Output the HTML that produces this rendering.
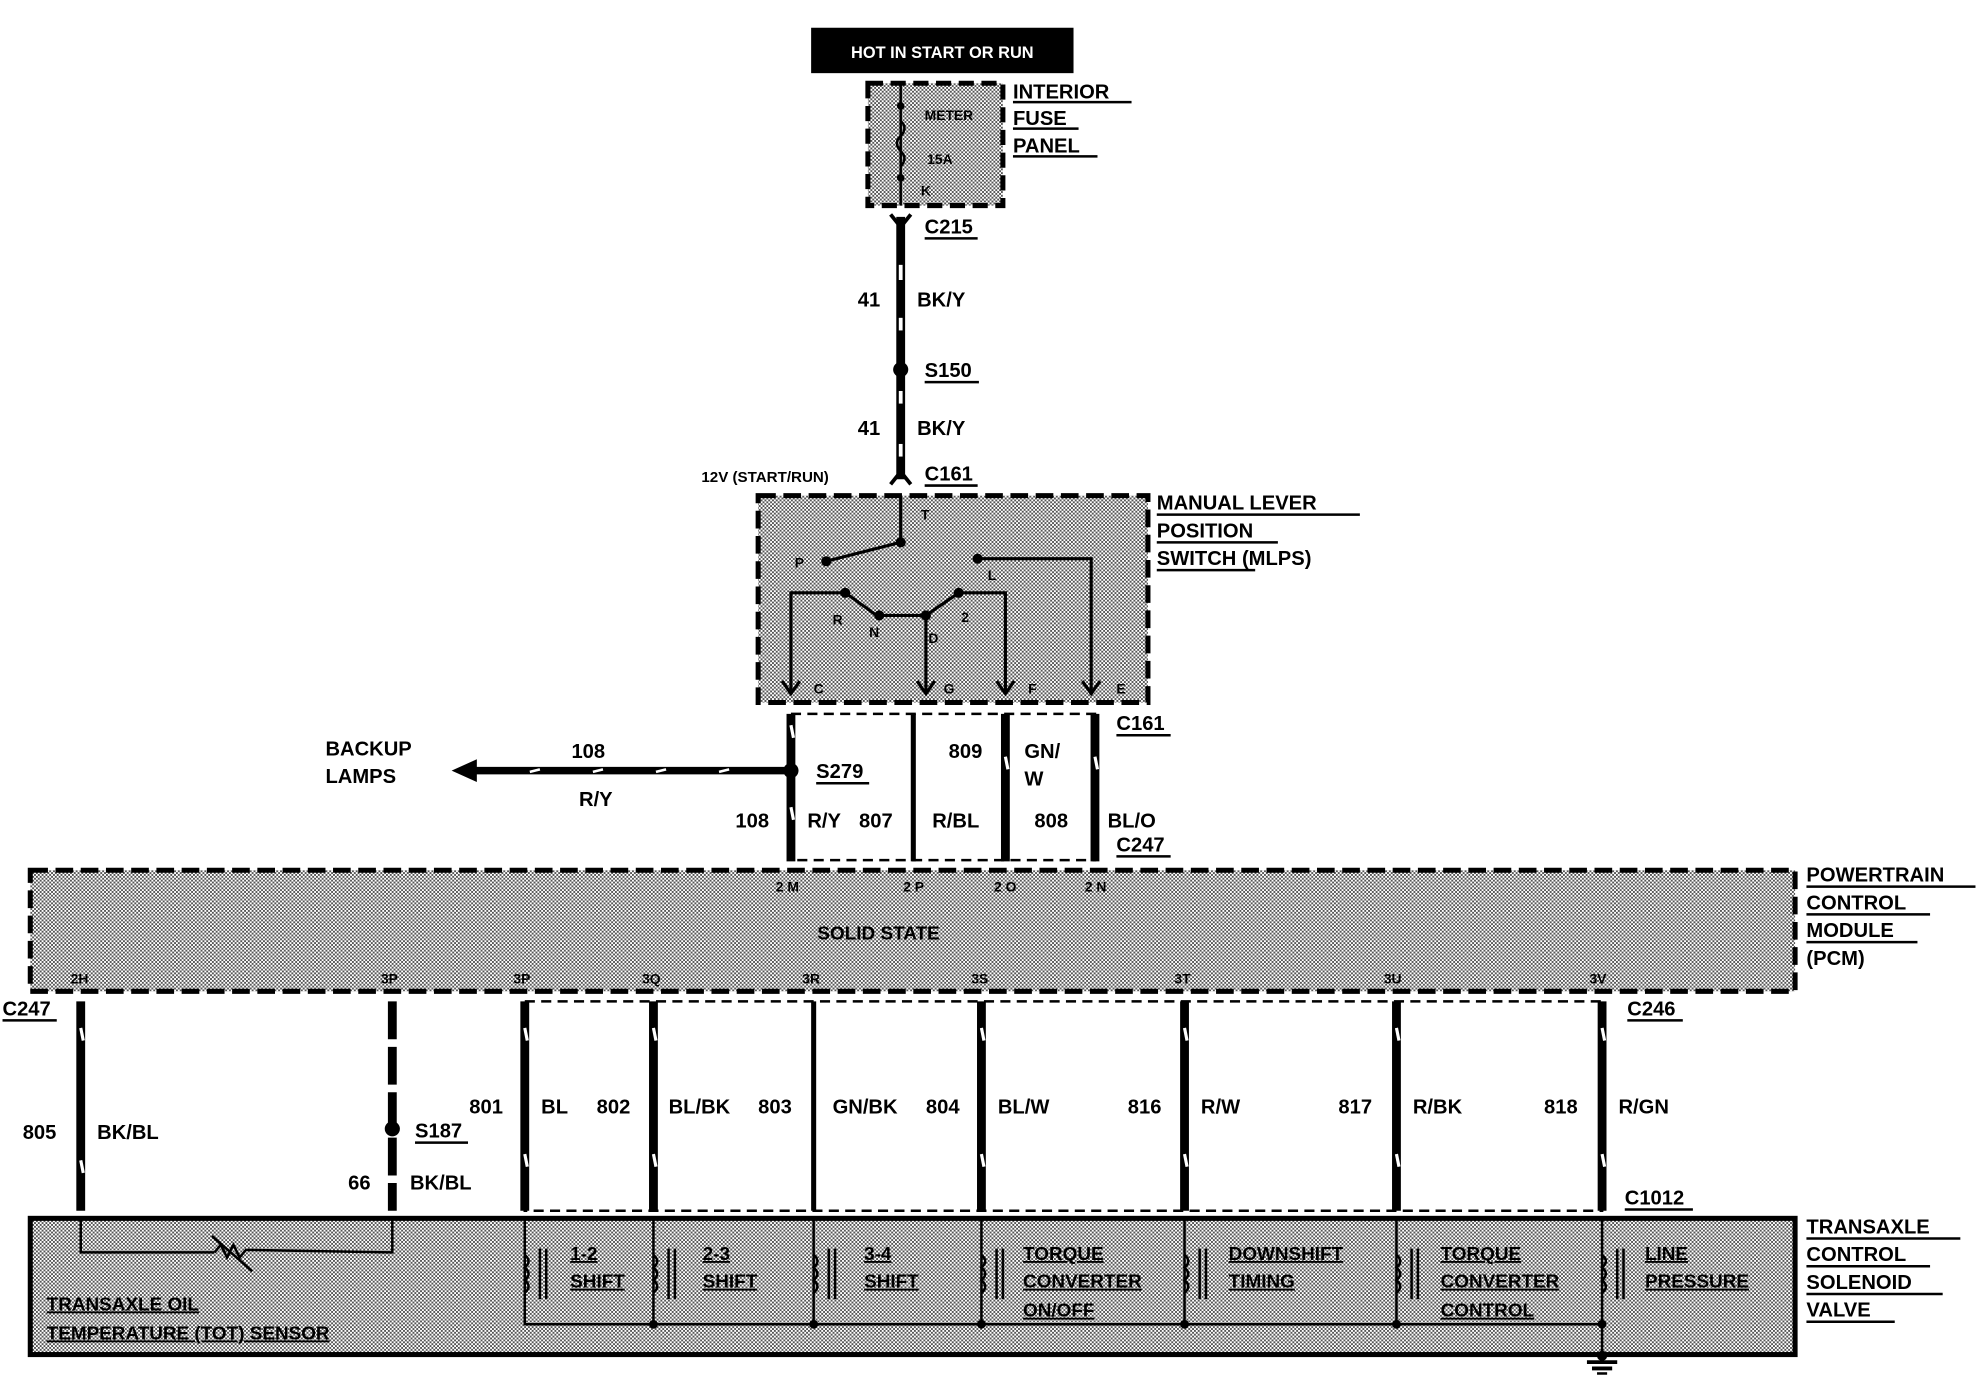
<!DOCTYPE html>
<html><head><meta charset="utf-8"><style>
html,body{margin:0;padding:0;background:#fff;}
svg{display:block}
text{font-family:"Liberation Sans",Arial,sans-serif;font-weight:bold;fill:#000}
</style></head><body>
<svg width="1978" height="1376" viewBox="0 0 1568 1091" preserveAspectRatio="none" xmlns="http://www.w3.org/2000/svg">
<defs>
<pattern id="dt" width="3" height="3" patternUnits="userSpaceOnUse">
<rect width="3" height="3" fill="#fff"/><rect width="1.5" height="1.5" fill="#555"/><rect x="1.5" y="1.5" width="1.5" height="1.5" fill="#555"/>
</pattern>
</defs>
<g font-size="16">
<!-- top label -->
<rect x="643" y="22" width="208" height="36" fill="#000"/>
<text x="747" y="46" font-size="13" font-weight="normal" style="fill:#fff" text-anchor="middle">HOT IN START OR RUN</text>

<!-- fuse panel -->
<rect x="688" y="66" width="107" height="97" fill="url(#dt)" stroke="#000" stroke-width="4" stroke-dasharray="12 6"/>
<line x1="714" y1="66" x2="714" y2="163" stroke="#000" stroke-width="2"/>
<path d="M714 96 q6 5 0 12 q-6 5 0 12 q6 5 0 12" fill="none" stroke="#000" stroke-width="2"/>
<circle cx="714" cy="84" r="3"/><circle cx="714" cy="141" r="3"/>
<text x="733" y="95" font-size="11" font-weight="normal">METER</text>
<text x="735" y="130" font-size="11" font-weight="normal">15A</text>
<text x="730" y="155" font-size="11" font-weight="normal">K</text>
<text x="803" y="78">INTERIOR</text><line x1="803" y1="81" x2="897" y2="81" stroke="#000" stroke-width="2"/>
<text x="803" y="99">FUSE</text><line x1="803" y1="102" x2="855" y2="102" stroke="#000" stroke-width="2"/>
<text x="803" y="121">PANEL</text><line x1="803" y1="124" x2="870" y2="124" stroke="#000" stroke-width="2"/>

<!-- top wire -->
<line x1="714" y1="172" x2="714" y2="380" stroke="#000" stroke-width="7"/>
<path d="M706 170 L714 180 L722 170" fill="none" stroke="#000" stroke-width="3"/>
<path d="M706 384 L714 374 L722 384" fill="none" stroke="#000" stroke-width="3"/>
<line x1="714" y1="210" x2="714" y2="222" stroke="#fff" stroke-width="3"/>
<line x1="714" y1="252" x2="714" y2="262" stroke="#fff" stroke-width="3"/>
<line x1="714" y1="310" x2="714" y2="320" stroke="#fff" stroke-width="3"/>
<line x1="714" y1="352" x2="714" y2="362" stroke="#fff" stroke-width="3"/>
<circle cx="714" cy="293" r="6"/>
<text x="733" y="185">C215</text><line x1="733" y1="189" x2="775" y2="189" stroke="#000" stroke-width="2"/>
<text x="680" y="243">41</text><text x="727" y="243">BK/Y</text>
<text x="733" y="299">S150</text><line x1="733" y1="303" x2="776" y2="303" stroke="#000" stroke-width="2"/>
<text x="680" y="345">41</text><text x="727" y="345">BK/Y</text>
<text x="556" y="382" font-size="12">12V (START/RUN)</text>
<text x="733" y="381">C161</text><line x1="733" y1="385" x2="775" y2="385" stroke="#000" stroke-width="2"/>

<!-- MLPS -->
<rect x="601" y="393" width="309" height="164" fill="url(#dt)" stroke="#000" stroke-width="4" stroke-dasharray="14 6"/>
<g stroke="#000" stroke-width="2.5" fill="none">
<polyline points="714,393 714,430 655,445"/>
<polyline points="627,550 627,470 670,470"/>
<polyline points="734,550 734,488"/>
<polyline points="797,550 797,470 760,470"/>
<polyline points="865,550 865,443 775,443"/>
<path d="M670 470 L695 488 L734 488 L760 470"/>
<path d="M620 540 L627 550 L634 540 M727 540 L734 550 L741 540 M790 540 L797 550 L804 540 M858 540 L865 550 L872 540"/>
</g>
<circle cx="714" cy="430" r="4"/><circle cx="655" cy="445" r="4"/><circle cx="670" cy="470" r="4"/><circle cx="697" cy="488" r="4"/><circle cx="734" cy="488" r="4"/><circle cx="760" cy="470" r="4"/><circle cx="775" cy="443" r="4"/>
<g font-size="11">
<text x="730" y="412">T</text><text x="630" y="450">P</text><text x="783" y="460">L</text><text x="660" y="495">R</text><text x="689" y="505">N</text><text x="736" y="510">D</text><text x="762" y="493">2</text>
<text x="645" y="550">C</text><text x="748" y="550">G</text><text x="815" y="550">F</text><text x="885" y="550">E</text>
</g>
<text x="917" y="404">MANUAL LEVER</text><line x1="917" y1="408" x2="1078" y2="408" stroke="#000" stroke-width="2"/>
<text x="917" y="426">POSITION</text><line x1="917" y1="430" x2="1013" y2="430" stroke="#000" stroke-width="2"/>
<text x="917" y="448">SWITCH (MLPS)</text><line x1="917" y1="452" x2="995" y2="452" stroke="#000" stroke-width="2"/>

<!-- middle wires -->
<rect x="627" y="566" width="241" height="116" fill="none" stroke="#000" stroke-width="2" stroke-dasharray="8 5"/>
<g stroke="#000" stroke-width="7">
<line x1="627" y1="566" x2="627" y2="683"/><line x1="724" y1="566" x2="724" y2="683" stroke-width="4"/><line x1="797" y1="566" x2="797" y2="683"/><line x1="868" y1="566" x2="868" y2="683"/>
</g>
<g stroke="#fff" stroke-width="2.5"><line x1="627" y1="575" x2="629" y2="585"/><line x1="627" y1="640" x2="629" y2="650"/><line x1="797" y1="600" x2="799" y2="610"/><line x1="868" y1="600" x2="870" y2="610"/></g>
<line x1="627" y1="611" x2="375" y2="611" stroke="#000" stroke-width="6"/>
<g stroke="#fff" stroke-width="2"><line x1="420" y1="612" x2="428" y2="610"/><line x1="470" y1="612" x2="478" y2="610"/><line x1="520" y1="612" x2="528" y2="610"/><line x1="570" y1="612" x2="578" y2="610"/></g>
<polygon points="358,611 378,602 378,620" fill="#000"/>
<circle cx="627" cy="611" r="6"/>
<text x="258" y="599">BACKUP</text><text x="258" y="621">LAMPS</text>
<text x="453" y="601">108</text><text x="459" y="639">R/Y</text>
<text x="647" y="617">S279</text><line x1="647" y1="621" x2="689" y2="621" stroke="#000" stroke-width="2"/>
<text x="752" y="601">809</text><text x="812" y="601">GN/</text><text x="812" y="623">W</text>
<text x="885" y="579">C161</text><line x1="885" y1="583" x2="928" y2="583" stroke="#000" stroke-width="2"/>
<text x="583" y="656">108</text><text x="640" y="656">R/Y</text><text x="681" y="656">807</text><text x="739" y="656">R/BL</text><text x="820" y="656">808</text><text x="878" y="656">BL/O</text>
<text x="885" y="675">C247</text><line x1="885" y1="679" x2="928" y2="679" stroke="#000" stroke-width="2"/>

<!-- PCM -->
<rect x="24" y="690" width="1399" height="96" fill="url(#dt)" stroke="#000" stroke-width="4" stroke-dasharray="14 6"/>
<g font-size="11"><text x="615" y="707">2 M</text><text x="716" y="707">2 P</text><text x="788" y="707">2 O</text><text x="860" y="707">2 N</text>
<text x="56" y="780">2H</text><text x="302" y="780">3P</text><text x="407" y="780">3P</text><text x="509" y="780">3Q</text><text x="636" y="780">3R</text><text x="770" y="780">3S</text><text x="931" y="780">3T</text><text x="1097" y="780">3U</text><text x="1260" y="780">3V</text></g>
<text x="648" y="745" font-size="15">SOLID STATE</text>
<text x="1432" y="699">POWERTRAIN</text><line x1="1432" y1="703" x2="1566" y2="703" stroke="#000" stroke-width="2"/>
<text x="1432" y="721">CONTROL</text><line x1="1432" y1="725" x2="1530" y2="725" stroke="#000" stroke-width="2"/>
<text x="1432" y="743">MODULE</text><line x1="1432" y1="747" x2="1520" y2="747" stroke="#000" stroke-width="2"/>
<text x="1432" y="765">(PCM)</text>

<!-- bottom wires -->
<rect x="416" y="794" width="854" height="166" fill="none" stroke="#000" stroke-width="2" stroke-dasharray="8 5"/>
<g stroke="#000" stroke-width="7">
<line x1="64" y1="794" x2="64" y2="960"/>
<line x1="311" y1="794" x2="311" y2="960" stroke-dasharray="30 6"/>
<line x1="416" y1="794" x2="416" y2="960"/><line x1="518" y1="794" x2="518" y2="960"/><line x1="645" y1="794" x2="645" y2="960" stroke-width="4"/><line x1="778" y1="794" x2="778" y2="960"/><line x1="939" y1="794" x2="939" y2="960"/><line x1="1107" y1="794" x2="1107" y2="960"/><line x1="1270" y1="794" x2="1270" y2="960"/>
</g>
<g stroke="#fff" stroke-width="2.5">
<line x1="64" y1="815" x2="66" y2="825"/><line x1="64" y1="920" x2="66" y2="930"/><line x1="416" y1="815" x2="418" y2="825"/><line x1="518" y1="815" x2="520" y2="825"/><line x1="778" y1="815" x2="780" y2="825"/><line x1="939" y1="815" x2="941" y2="825"/><line x1="1107" y1="815" x2="1109" y2="825"/><line x1="1270" y1="815" x2="1272" y2="825"/>
<line x1="416" y1="915" x2="418" y2="925"/><line x1="518" y1="915" x2="520" y2="925"/><line x1="778" y1="915" x2="780" y2="925"/><line x1="939" y1="915" x2="941" y2="925"/><line x1="1107" y1="915" x2="1109" y2="925"/><line x1="1270" y1="915" x2="1272" y2="925"/>
</g>
<circle cx="311" cy="895" r="6"/>
<text x="2" y="805">C247</text><line x1="2" y1="809" x2="45" y2="809" stroke="#000" stroke-width="2"/>
<text x="18" y="903">805</text><text x="77" y="903">BK/BL</text>
<text x="329" y="902">S187</text><line x1="329" y1="906" x2="371" y2="906" stroke="#000" stroke-width="2"/>
<text x="276" y="943">66</text><text x="325" y="943">BK/BL</text>
<text x="372" y="883">801</text><text x="429" y="883">BL</text><text x="473" y="883">802</text><text x="530" y="883">BL/BK</text><text x="601" y="883">803</text><text x="660" y="883">GN/BK</text><text x="734" y="883">804</text><text x="791" y="883">BL/W</text><text x="894" y="883">816</text><text x="952" y="883">R/W</text><text x="1061" y="883">817</text><text x="1120" y="883">R/BK</text><text x="1224" y="883">818</text><text x="1283" y="883">R/GN</text>
<text x="1290" y="805">C246</text><line x1="1290" y1="809" x2="1334" y2="809" stroke="#000" stroke-width="2"/>
<text x="1288" y="955">C1012</text><line x1="1288" y1="959" x2="1342" y2="959" stroke="#000" stroke-width="2"/>

<!-- bottom box -->
<rect x="24" y="966" width="1399" height="108" fill="url(#dt)" stroke="#000" stroke-width="4"/>
<g stroke="#000" stroke-width="2" fill="none">
<polyline points="64,966 64,993 170,993"/><path d="M170 993 l5 -6 l5 10 l5 -10 l5 10 l5 -6 L311 993 L311 966"/>
<line x1="168" y1="980" x2="200" y2="1008"/>
<polyline points="416,966 416,1050 1270,1050 1270,966"/>
<line x1="518" y1="966" x2="518" y2="1050"/><line x1="645" y1="966" x2="645" y2="1050"/><line x1="778" y1="966" x2="778" y2="1050"/><line x1="939" y1="966" x2="939" y2="1050"/><line x1="1107" y1="966" x2="1107" y2="1050"/>
<line x1="1270" y1="1050" x2="1270" y2="1075"/>
<path d="M416 995 q6 5 0 10 q6 5 0 10 q6 5 0 10"/><path d="M518 995 q6 5 0 10 q6 5 0 10 q6 5 0 10"/><path d="M645 995 q6 5 0 10 q6 5 0 10 q6 5 0 10"/><path d="M778 995 q6 5 0 10 q6 5 0 10 q6 5 0 10"/><path d="M939 995 q6 5 0 10 q6 5 0 10 q6 5 0 10"/><path d="M1107 995 q6 5 0 10 q6 5 0 10 q6 5 0 10"/><path d="M1270 995 q6 5 0 10 q6 5 0 10 q6 5 0 10"/>
<path d="M428 990 v40 M433 990 v40 M530 990 v40 M535 990 v40 M657 990 v40 M662 990 v40 M790 990 v40 M795 990 v40 M951 990 v40 M956 990 v40 M1119 990 v40 M1124 990 v40 M1282 990 v40 M1287 990 v40"/>
<line x1="1258" y1="1080" x2="1282" y2="1080" stroke-width="3"/><line x1="1262" y1="1085" x2="1278" y2="1085" stroke-width="3"/><line x1="1266" y1="1089" x2="1274" y2="1089" stroke-width="2"/>
</g>
<circle cx="518" cy="1050" r="3.5"/><circle cx="645" cy="1050" r="3.5"/><circle cx="778" cy="1050" r="3.5"/><circle cx="939" cy="1050" r="3.5"/><circle cx="1107" cy="1050" r="3.5"/><circle cx="1270" cy="1050" r="3.5"/><circle cx="1270" cy="1075" r="4"/>
<g font-size="15" text-decoration="underline">
<text x="37" y="1039">TRANSAXLE OIL</text><text x="37" y="1062">TEMPERATURE (TOT) SENSOR</text>
<text x="452" y="999">1-2</text><text x="452" y="1021">SHIFT</text>
<text x="557" y="999">2-3</text><text x="557" y="1021">SHIFT</text>
<text x="685" y="999">3-4</text><text x="685" y="1021">SHIFT</text>
<text x="811" y="999">TORQUE</text><text x="811" y="1021">CONVERTER</text><text x="811" y="1044">ON/OFF</text>
<text x="974" y="999">DOWNSHIFT</text><text x="974" y="1021">TIMING</text>
<text x="1142" y="999">TORQUE</text><text x="1142" y="1021">CONVERTER</text><text x="1142" y="1044">CONTROL</text>
<text x="1304" y="999">LINE</text><text x="1304" y="1021">PRESSURE</text>
</g>
<text x="1432" y="978">TRANSAXLE</text><line x1="1432" y1="982" x2="1554" y2="982" stroke="#000" stroke-width="2"/>
<text x="1432" y="1000">CONTROL</text><line x1="1432" y1="1004" x2="1530" y2="1004" stroke="#000" stroke-width="2"/>
<text x="1432" y="1022">SOLENOID</text><line x1="1432" y1="1026" x2="1540" y2="1026" stroke="#000" stroke-width="2"/>
<text x="1432" y="1044">VALVE</text><line x1="1432" y1="1048" x2="1502" y2="1048" stroke="#000" stroke-width="2"/>
</g>
</svg>
</body></html>
